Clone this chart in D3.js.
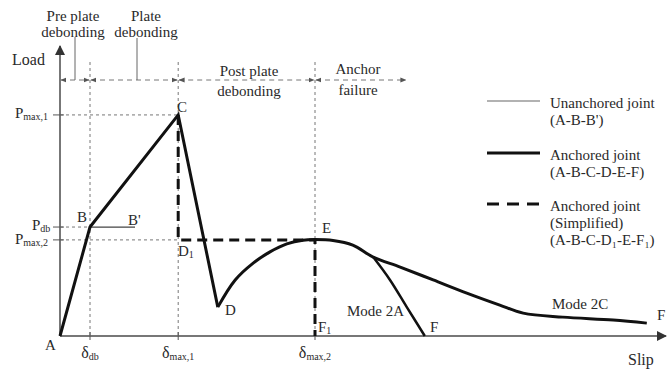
<!DOCTYPE html>
<html><head><meta charset="utf-8">
<script src="https://cdn.jsdelivr.net/npm/d3@7"></script>
<style>
body{margin:0;background:#fff;}
</style></head><body>
<svg id="chart" width="667" height="370"></svg>
<script>
// ---- data (slip, load in normalized units) ----
const thresholds = {db: 5, max1: 19.7, max2: 42.5, end: 57.8};
const loads = {max1: 77.3, db: 38.1, max2: 33.6};
const unanchored = [[0,0],[5,38.1],[12.5,38.1]];
const anchoredLinear = [[0,0],[5,38.1],[19.7,77.3],[26.3,10.1]];
const anchoredCurve = [[26.3,10.1],[29.2,19.6],[32.2,25.5],[35,29.4],[37.8,32.2],[40.5,33.5],[42.5,33.7],[45.5,33.4],[48.8,31.8],[52.2,27.6],[56.7,24.1],[62.2,19.6],[67.8,15],[73.3,10.8],[77.2,8],[83.8,6.6],[92.2,5.6],[97.8,4.5]];
const mode2A = [[52.2,27.6],[55,19.6],[57.8,10.1],[60.8,0]];
const simplified = [[19.7,77.3],[19.7,33.6],[42.5,33.6],[42.5,0]];
const phaseLabels = [["Pre plate","debonding"],["Plate","debonding"],["Post plate","debonding"],["Anchor","failure"]];
const legendItems = [
  {lines:["Unanchored joint","(A-B-B')"], style:"thin"},
  {lines:["Anchored joint","(A-B-C-D-E-F)"], style:"thick"},
  {lines:["Anchored joint","(Simplified)","(A-B-C-D\u2081-E-F\u2081)"], style:"dash"}
];

const svg = d3.select("#chart");
const TXT = "#2a2a2a";
const FONT = "'Liberation Serif'";
const x = d3.scaleLinear().domain([0,100]).range([60,660]);
const y = d3.scaleLinear().domain([0,100]).range([336,50]);
const line = d3.line().x(d=>x(d[0])).y(d=>y(d[1]));
const curve = d3.line().x(d=>x(d[0])).y(d=>y(d[1])).curve(d3.curveCatmullRom.alpha(0.5));

const defs = svg.append("defs");
defs.append("marker").attr("id","axArrow").attr("viewBox","0 0 10 10").attr("refX",9).attr("refY",5)
  .attr("markerWidth",5).attr("markerHeight",5).attr("orient","auto-start-reverse").attr("markerUnits","strokeWidth")
  .append("path").attr("d","M0,0 L10,5 L0,10 z").attr("fill","#333");
defs.append("marker").attr("id","smArrow").attr("viewBox","0 0 10 10").attr("refX",9).attr("refY",5)
  .attr("markerWidth",6).attr("markerHeight",6).attr("orient","auto-start-reverse")
  .append("path").attr("d","M0,1 L10,5 L0,9 z").attr("fill","#555");

function T(px,py,s,size,anchor){
  return svg.append("text").attr("x",px).attr("y",py).attr("font-size",size||15)
    .attr("text-anchor",anchor||"start").attr("fill",TXT).style("font-family",FONT).text(s);
}

// guide lines (grey dotted)
const guide = {stroke:"#777","stroke-width":1,"stroke-dasharray":"3,3",fill:"none"};
function applyAttrs(sel,a){Object.entries(a).forEach(([k,v])=>sel.attr(k,v));return sel;}
[thresholds.db, thresholds.max1, thresholds.max2].forEach(t=>{
  applyAttrs(svg.append("line").attr("x1",x(t)).attr("x2",x(t)).attr("y1",62).attr("y2",y(0)),guide);
});
applyAttrs(svg.append("line").attr("x1",x(0)).attr("x2",x(thresholds.max1)).attr("y1",y(loads.max1)).attr("y2",y(loads.max1)),guide);
applyAttrs(svg.append("line").attr("x1",x(0)).attr("x2",x(thresholds.db)).attr("y1",y(loads.db)).attr("y2",y(loads.db)),guide);
applyAttrs(svg.append("line").attr("x1",x(0)).attr("x2",x(thresholds.max1)).attr("y1",y(loads.max2)).attr("y2",y(loads.max2)),guide);

// phase arrows
const bounds = [0, thresholds.db, thresholds.max1, thresholds.max2, thresholds.end];
const arrowY = 80;
for(let i=0;i<4;i++){
  svg.append("line").attr("x1",x(bounds[i])+1).attr("x2",x(bounds[i+1])-1).attr("y1",arrowY).attr("y2",arrowY)
    .attr("stroke","#777").attr("stroke-width",1).attr("stroke-dasharray","5,4")
    .attr("marker-start","url(#smArrow)").attr("marker-end","url(#smArrow)");
}
// leader lines
svg.append("line").attr("x1",75).attr("x2",75).attr("y1",37).attr("y2",arrowY).attr("stroke","#666");
svg.append("line").attr("x1",137).attr("x2",137).attr("y1",38).attr("y2",arrowY).attr("stroke","#666");
const phasePos = [[73,21,37],[146,21,37],[249,76,96],[358,74,95]];
phaseLabels.forEach((p,i)=>{
  p.forEach((t,j)=>T(phasePos[i][0],phasePos[i][1+j],t,15,"middle"));
});

// axes
svg.append("line").attr("x1",x(0)).attr("x2",x(0)).attr("y1",y(0)).attr("y2",46).attr("stroke","#777").attr("stroke-width",2).attr("marker-end","url(#axArrow)");
svg.append("line").attr("x1",x(0)).attr("x2",666).attr("y1",y(0)).attr("y2",y(0)).attr("stroke","#777").attr("stroke-width",2).attr("marker-end","url(#axArrow)");
T(12,65,"Load",16);
T(628,365,"Slip",16);

// y ticks & labels
const yTicks = [{v:loads.max1,s:"max,1",x:15,dy:3},{v:loads.db,s:"db",x:32,dy:3},{v:loads.max2,s:"max,2",x:15,dy:4}];
yTicks.forEach(t=>{
  svg.append("line").attr("x1",53).attr("x2",64).attr("y1",y(t.v)).attr("y2",y(t.v)).attr("stroke","#555");
  const tx = T(t.x,y(t.v)+t.dy,"",15);
  tx.append("tspan").text("P");
  tx.append("tspan").attr("font-size",10).attr("dy",2).text(t.s);
});
// x tick labels
const xTicks = [{v:thresholds.db,s:"db"},{v:thresholds.max1,s:"max,1"},{v:thresholds.max2,s:"max,2"}];
xTicks.forEach(t=>{
  svg.append("line").attr("x1",x(t.v)).attr("x2",x(t.v)).attr("y1",y(0)-4).attr("y2",y(0)+4).attr("stroke","#555");
  const tx = T(x(t.v),358,"",16,"middle");
  tx.append("tspan").text("\u03b4");
  tx.append("tspan").attr("font-size",10).attr("dy",2).text(t.s);
});
T(45,350,"A",15);

// curves
svg.append("path").attr("d",line(unanchored)).attr("stroke","#444").attr("stroke-width",1.2).attr("fill","none");
svg.append("path").attr("d",line(anchoredLinear)).attr("stroke","#111").attr("stroke-width",3).attr("fill","none").attr("stroke-linejoin","miter");
svg.append("path").attr("d",curve(anchoredCurve)).attr("stroke","#111").attr("stroke-width",3).attr("fill","none");
svg.append("path").attr("d",curve(mode2A)).attr("stroke","#111").attr("stroke-width",2.5).attr("fill","none");
svg.append("path").attr("d",line(simplified)).attr("stroke","#111").attr("stroke-width",3).attr("fill","none").attr("stroke-dasharray","10,6");

// point labels
function lbl(px,py,main,sub){
  const t = T(px,py,"",15);
  t.append("tspan").text(main);
  if(sub) t.append("tspan").attr("font-size",10).attr("dy",2).text(sub);
}
lbl(177,112,"C"); lbl(77,222,"B"); lbl(128,225,"B'"); lbl(178,256,"D","1");
lbl(225,315,"D"); lbl(322,233,"E"); lbl(318,332,"F","1"); lbl(430,332,"F"); lbl(657,320,"F");
T(347,316,"Mode 2A",15);
T(552,309,"Mode 2C",15);

// legend
const legY = [101,153,204];
legendItems.forEach((it,i)=>{
  const ln = svg.append("line").attr("x1",487).attr("x2",540).attr("y1",legY[i]).attr("y2",legY[i]);
  if(it.style==="thin") ln.attr("stroke","#999").attr("stroke-width",1.5);
  else if(it.style==="thick") ln.attr("stroke","#111").attr("stroke-width",3);
  else ln.attr("stroke","#111").attr("stroke-width",3).attr("stroke-dasharray","12,8");
  it.lines.forEach((t,j)=>T(550,legY[i]+7+j*17,t,15));
});
</script></body></html>
